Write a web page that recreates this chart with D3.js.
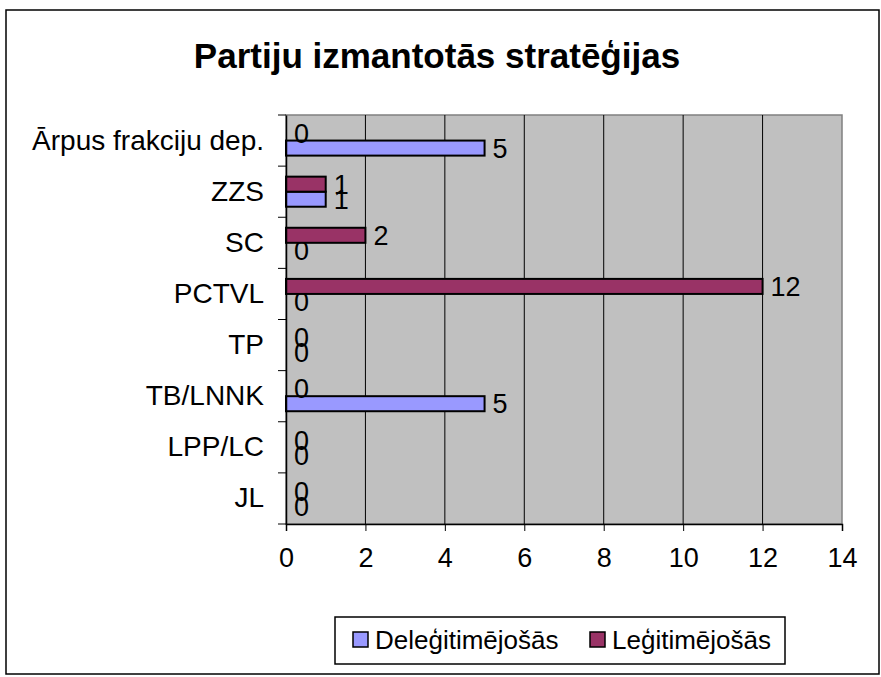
<!DOCTYPE html>
<meta charset="utf-8">
<style>
body { margin: 0; background: #fff; }
svg { font-family: Arial, "Liberation Sans", sans-serif; }
.tick text { fill: #000; }
.lbl { font-size: 27px; fill: #000; }
</style>
<body>
<script src="https://d3js.org/d3.v7.min.js"></script>
<script>

// categories top to bottom, as in the picture
var categories = ["Ārpus frakciju dep.", "ZZS", "SC", "PCTVL", "TP", "TB/LNNK", "LPP/LC", "JL"];
var seriesNames = ["Deleģitimējošās", "Leģitimējošās"];
var delegValues = [5, 1, 0, 0, 0, 5, 0, 0];
var legValues   = [0, 1, 2, 12, 0, 0, 0, 0];
var xTicks = [0, 2, 4, 6, 8, 10, 12, 14];
var colors = ["#9999FF", "#993366"];

var W = 881, H = 677;
var plot = {left: 286, right: 842, top: 115, bottom: 524};

var svg = d3.select("body").append("svg")
    .attr("width", W)
    .attr("height", H);

// outer chart border
svg.append("rect")
    .attr("x", 6).attr("y", 10)
    .attr("width", 873).attr("height", 664)
    .attr("fill", "#fff")
    .attr("stroke", "#000")
    .attr("stroke-width", 1.5);

svg.append("text")
    .attr("x", 437)
    .attr("y", 68)
    .attr("text-anchor", "middle")
    .style("font-size", "35px")
    .style("font-weight", "bold")
    .text("Partiju izmantotās stratēģijas");

var x = d3.scaleLinear().domain([0, 14]).range([plot.left, plot.right]);
var y = d3.scaleBand().domain(categories).range([plot.top, plot.bottom]);
// within a band the second series sits on top
var yIn = d3.scaleBand().domain([seriesNames[1], seriesNames[0]])
    .range([0, y.bandwidth()]).paddingOuter(0.7);

// plot background
svg.append("rect")
    .attr("x", plot.left).attr("y", plot.top)
    .attr("width", plot.right - plot.left)
    .attr("height", plot.bottom - plot.top)
    .attr("fill", "#C0C0C0")
    .attr("stroke", "#808080")
    .attr("stroke-width", 1.5);

// gridlines
svg.selectAll("line.grid")
    .data(xTicks.slice(1, -1))
    .enter().append("line")
    .attr("class", "grid")
    .attr("x1", function(d) { return x(d); })
    .attr("x2", function(d) { return x(d); })
    .attr("y1", plot.top)
    .attr("y2", plot.bottom)
    .attr("stroke", "#000")
    .attr("stroke-width", 1);

// bars
var series = [
    {name: seriesNames[0], values: delegValues, color: colors[0]},
    {name: seriesNames[1], values: legValues, color: colors[1]}
];

series.forEach(function(s) {
    var g = svg.append("g");
    g.selectAll("rect")
        .data(s.values)
        .enter().append("rect")
        .attr("x", x(0))
        .attr("y", function(d, i) { return y(categories[i]) + yIn(s.name); })
        .attr("width", function(d) { return x(d) - x(0); })
        .attr("height", yIn.bandwidth())
        .attr("fill", s.color)
        .attr("stroke", "#000")
        .attr("stroke-width", function(d) { return d > 0 ? 2 : 0; });
    g.selectAll("text")
        .data(s.values)
        .enter().append("text")
        .attr("class", "lbl")
        .attr("x", function(d) { return x(d) + 8; })
        .attr("y", function(d, i) { return y(categories[i]) + yIn(s.name) + yIn.bandwidth() / 2; })
        .attr("dy", "0.36em")
        .text(function(d) { return d; });
});

// x axis
var xAxis = svg.append("g")
    .attr("transform", "translate(0," + plot.bottom + ")")
    .call(d3.axisBottom(x).tickValues(xTicks).tickSize(7).tickPadding(17));
xAxis.select(".domain").attr("stroke", "#000").attr("stroke-width", 1.5);
xAxis.selectAll(".tick line").attr("stroke", "#000");
xAxis.selectAll(".tick text")
    .style("font-family", "Arial, 'Liberation Sans', sans-serif")
    .style("font-size", "27px");

// y axis
var yAxis = svg.append("g")
    .attr("transform", "translate(" + plot.left + ",0)")
    .call(d3.axisLeft(y).tickSize(0).tickPadding(22));
yAxis.select(".domain").attr("stroke", "#000").attr("stroke-width", 1.5);
yAxis.selectAll(".tick text")
    .style("font-family", "Arial, 'Liberation Sans', sans-serif")
    .style("font-size", "28px");
// category boundary ticks
svg.selectAll("line.ytick")
    .data(categories.concat([null]))
    .enter().append("line")
    .attr("class", "ytick")
    .attr("x1", plot.left - 8)
    .attr("x2", plot.left)
    .attr("y1", function(d, i) { return plot.top + i * y.step(); })
    .attr("y2", function(d, i) { return plot.top + i * y.step(); })
    .attr("stroke", "#000");

// legend
var leg = svg.append("g");
leg.append("rect")
    .attr("x", 335).attr("y", 617)
    .attr("width", 450).attr("height", 47)
    .attr("fill", "#fff")
    .attr("stroke", "#000")
    .attr("stroke-width", 1.5);
var legX = [353, 590];
series.forEach(function(s, i) {
    leg.append("rect")
        .attr("x", legX[i]).attr("y", 632)
        .attr("width", 15).attr("height", 15)
        .attr("fill", s.color)
        .attr("stroke", "#000")
        .attr("stroke-width", 1.5);
    leg.append("text")
        .attr("x", legX[i] + 22)
        .attr("y", 640)
        .attr("dy", "0.36em")
        .style("font-size", "26px")
        .text(s.name);
});

</script>
</body>
